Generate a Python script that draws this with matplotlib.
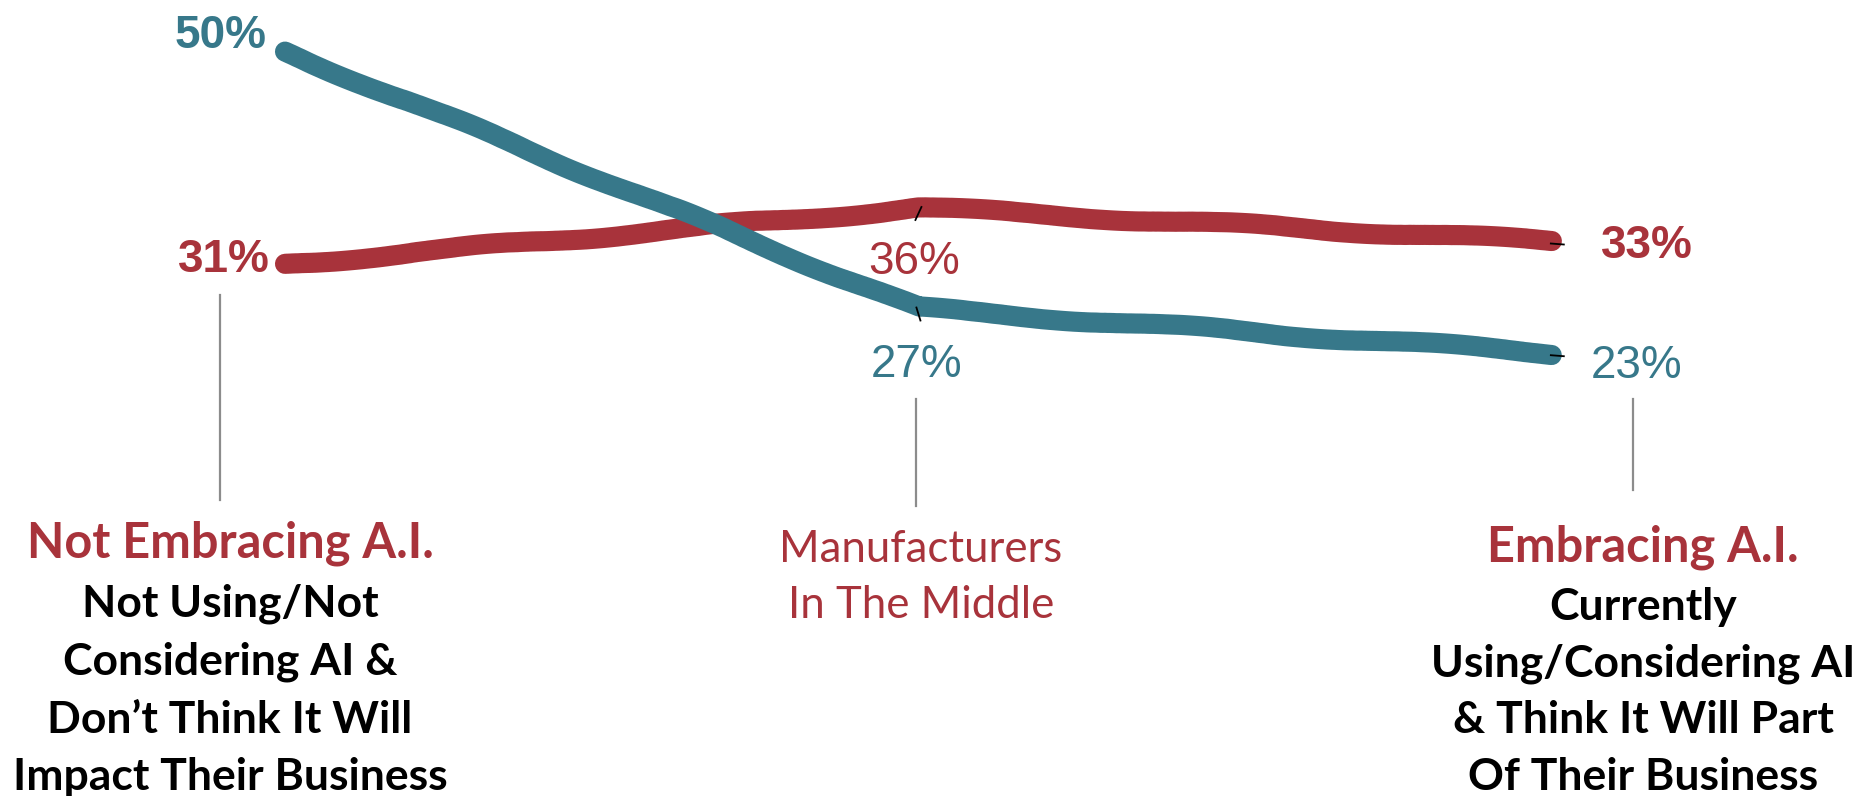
import matplotlib
matplotlib.use("Agg")
import matplotlib.pyplot as plt
from matplotlib.transforms import IdentityTransform

# ---- data -------------------------------------------------------------
segments = ["Not Embracing A.I.", "Manufacturers In The Middle", "Embracing A.I."]
teal_values = [50, 27, 23]
red_values = [31, 36, 33]

left_title = "Not Embracing A.I."
left_lines = ["Not Using/Not", "Considering AI &", "Don\u2019t Think It Will",
              "Impact Their Business"]
mid_lines = ["Manufacturers", "In The Middle"]
right_title = "Embracing A.I."
right_lines = ["Currently", "Using/Considering AI", "& Think It Will Part",
               "Of Their Business"]

TEAL = "#37788A"
RED = "#A8333B"
GREY = "#8C8C8C"

W, H, DPI = 1866, 796, 100
fig = plt.figure(figsize=(W / DPI, H / DPI), dpi=DPI)
fig.patch.set_facecolor("white")
ax = fig.add_axes([0, 0, 1, 1])
ax.set_xlim(-0.450, 2.496)
ax.set_ylim(-16.64, 54.62)
ax.axis("off")

xs = list(range(len(segments)))

for vals, col in ((red_values, RED), (teal_values, TEAL)):
    ln, = ax.plot(xs, vals, color=col, lw=14.5, solid_capstyle="round",
                  solid_joinstyle="round", zorder=3)
    # gentle hand-drawn wobble
    ln.set_sketch_params(scale=2.2, length=300, randomness=2.5)


def px(x, y):
    """top-left pixel coordinates -> display coordinates"""
    return x, H - y


def seg(p0, p1, **kw):
    (x0, y0), (x1, y1) = px(*p0), px(*p1)
    ax.plot([x0, x1], [y0, y1], transform=IdentityTransform(), **kw)


def point_px(x, v):
    dx, dy = ax.transData.transform((x, v))
    return dx, H - dy


# small black tick marks across the lines
ticks = [
    (red_values, 1, (-3, 12), (3, -1)),
    (teal_values, 1, (-2, -1), (2, 12)),
    (red_values, 2, (-1, 2), (12, 3)),
    (teal_values, 2, (-1, 2), (12, 3)),
]
for vals, i, a, b in ticks:
    cx, cy = point_px(i, vals[i])
    seg((cx + a[0], cy + a[1]), (cx + b[0], cy + b[1]),
        color="black", lw=1.3, zorder=5)

# value labels
PCT_FONT = ["Liberation Sans", "DejaVu Sans"]
labels = [
    (teal_values, 0, TEAL, "bold", -64, 4),
    (red_values, 0, RED, "bold", -61, -8),
    (red_values, 1, RED, "normal", -4, -66),
    (teal_values, 1, TEAL, "normal", -2, -68),
    (red_values, 2, RED, "bold", 95, -16),
    (teal_values, 2, TEAL, "normal", 85, -25),
]
for vals, i, col, wt, ox, oy in labels:
    ax.annotate(f"{vals[i]}%", (i, vals[i]), xytext=(ox, oy),
                textcoords="offset pixels", ha="center", va="baseline",
                fontsize=33, color=col, fontweight=wt, family=PCT_FONT)

# connector lines under the segment labels
for x, y0, y1 in ((220, 295, 500), (916, 399, 506), (1633, 399, 490)):
    seg((x, y0), (x, y1), color=GREY, lw=1.6, zorder=2)

LBL_FONT = ["Lato", "DejaVu Sans"]


def ftext(x, y, s, **kw):
    fig.text(x / W, 1 - y / H, s, ha="center", va="baseline",
             family=LBL_FONT, **kw)


ftext(230, 558, left_title, fontsize=35, fontweight="bold", color=RED)
for s, y in zip(left_lines, (617, 675, 733, 790)):
    ftext(230, y, s, fontsize=32, fontweight="bold", color="black")

for s, y in zip(mid_lines, (562, 618)):
    ftext(921, y, s, fontsize=31.5, color=RED)

ftext(1643, 562, right_title, fontsize=35, fontweight="bold", color=RED)
for s, y in zip(right_lines, (620, 677, 733, 790)):
    ftext(1643, y, s, fontsize=32, fontweight="bold", color="black")

fig.savefig("out.png", dpi=DPI, facecolor="white")
